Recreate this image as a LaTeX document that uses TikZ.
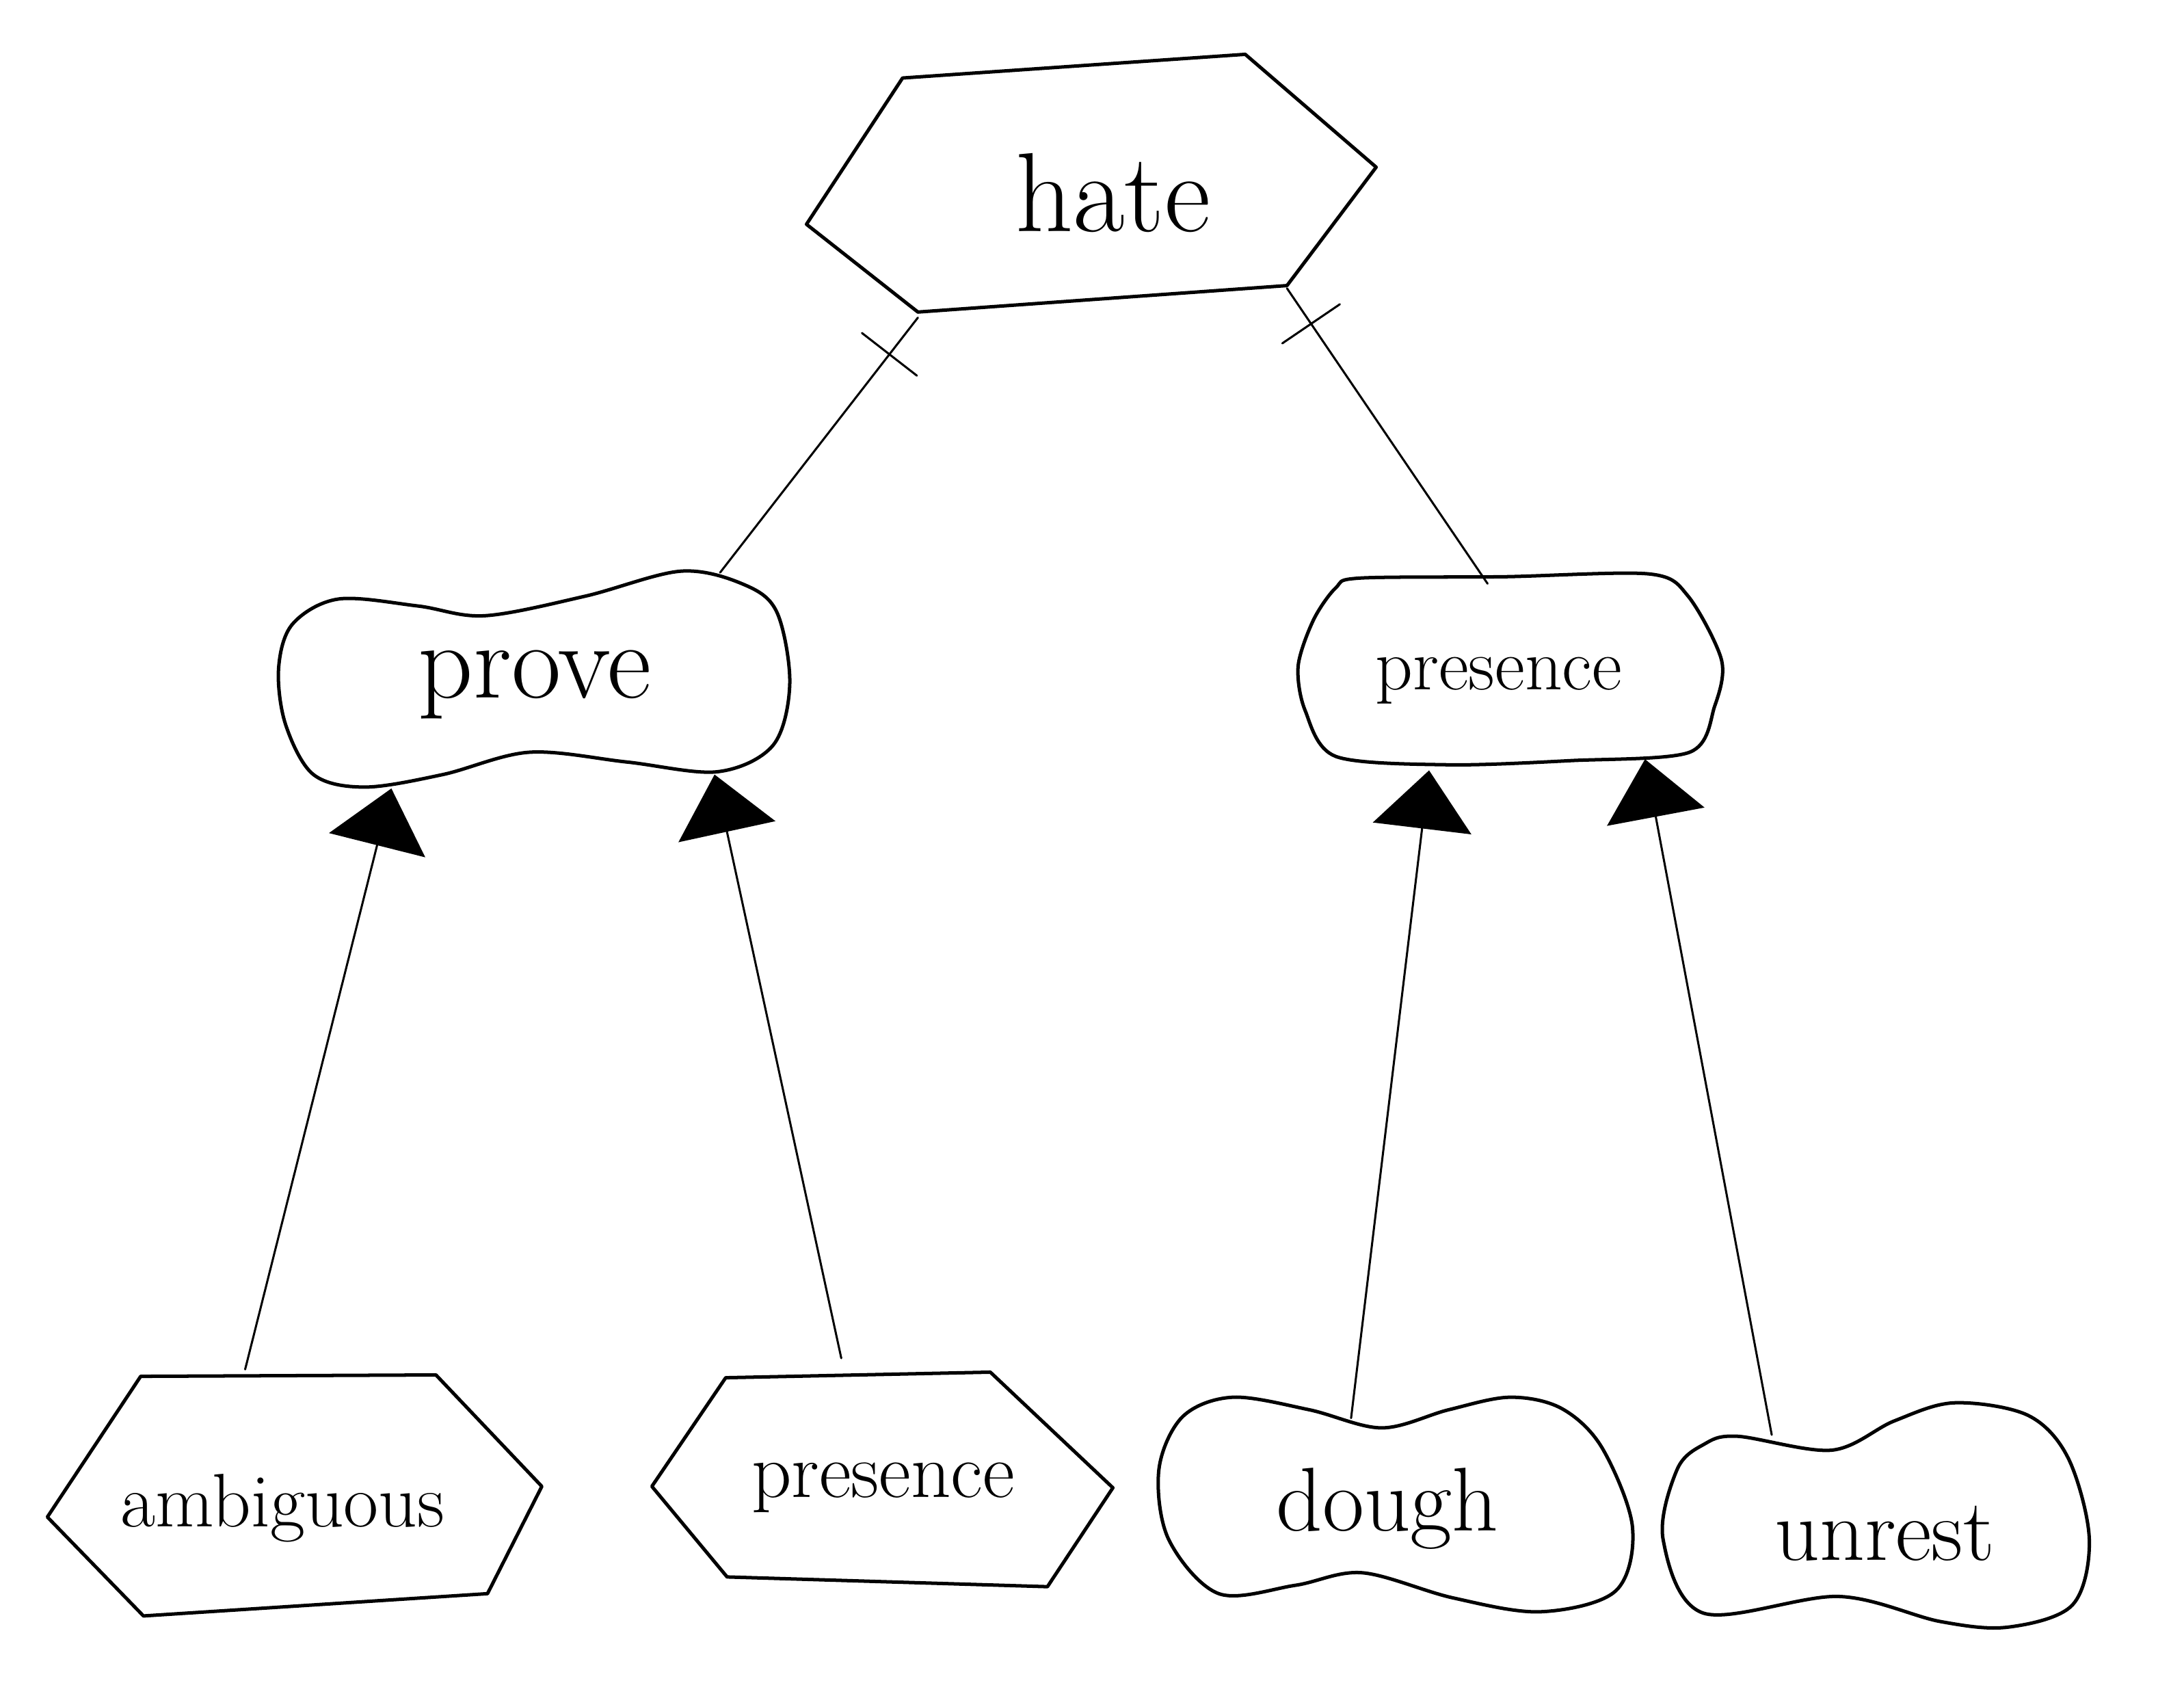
\documentclass[tikz,border=0pt]{standalone}
\usepackage{fontspec}
\usetikzlibrary{arrows.meta,decorations.markings}
\begin{document}
\begin{tikzpicture}[x=0.02cm,y=-0.02cm,
  outline/.style={draw=black, line width=1.4pt, line join=round, line cap=round},
  conn/.style={draw=black, line width=0.85pt, line cap=round},
  arr/.style={conn, -{Triangle[length=0.84cm,width=1.42cm]}},
  tickat/.style={postaction={decorate}, decoration={markings,
      mark=at position #1 with {\draw[line width=0.85pt] (0,-0.5cm) -- (0,0.5cm);}}},
  lbl/.style={anchor=base, inner sep=0pt},
  fs/.style={font=\fontsize{#1}{#1}\selectfont}]
\fill[white] (0,0) rectangle (1568,1217);
\useasboundingbox (0,0) rectangle (1568,1217);

% ---- shapes ----
% hate (hexagon)
\draw[outline] (579,161) -- (648,56) -- (894,39) -- (988,120) -- (924,205) -- (659,224) -- cycle;
% prove (wavy blob)
\draw[outline] plot[smooth cycle, tension=0.55] coordinates {
  (243,430) (300,435) (348,442) (420,428) (489,410) (535,420) (558,440)
  (567,491) (555,535) (515,554) (450,547) (380,540) (318,556) (262,565)
  (225,556) (205,520) (200,480) (210,448)};
% presence, middle (rounded box)
\draw[outline] plot[smooth cycle, tension=0.5] coordinates {
  (976,415) (1080,414) (1184,412) (1212,428) (1236,474) (1231,507)
  (1213,540) (1128,546) (1040,549) (959,543) (937,510) (932,478)
  (943,445) (959,422)};
% ambiguous (hexagon)
\draw[outline] (34,1089) -- (101,988) -- (313,987) -- (389,1067) -- (350,1144) -- (103,1160) -- cycle;
% presence, bottom (hexagon)
\draw[outline] (468,1067) -- (521,989) -- (711,985) -- (799,1068) -- (752,1139) -- (522,1132) -- cycle;
% dough (wavy blob)
\draw[outline] plot[smooth cycle, tension=0.55] coordinates {
  (885,1003) (940,1012) (992,1025) (1040,1012) (1084,1003) (1121,1011)
  (1150,1039) (1172,1096) (1160,1142) (1106,1157) (1043,1147) (978,1129)
  (930,1138) (875,1144) (839,1105) (832,1055) (849,1017)};
% unrest (wavy blob)
\draw[outline] plot[smooth cycle, tension=0.55] coordinates {
  (1247,1031) (1315,1041) (1360,1020) (1403,1007) (1456,1016)
  (1485,1047) (1500,1105) (1488,1152) (1442,1168) (1393,1164)
  (1320,1146) (1223,1158) (1194,1105) (1204,1055) (1223,1037)};

% ---- labels ----
\node[lbl, fs=46] (hate) at (799,166) {hate};
\node[lbl, fs=44] (prove) at (384,501) {prove};
\node[lbl, fs=30] (presM) at (1076,495) {presence};
\node[lbl, fs=31] (ambig) at (203,1096) {ambiguous};
\node[lbl, fs=32] (presB) at (634,1075) {presence};
\node[lbl, fs=37] (dough) at (996,1099) {dough};
\node[lbl, fs=36] (unrest) at (1353,1120) {unrest};

% ---- attachment points ----
\coordinate (hate-bl) at (659,228);
\coordinate (hate-br) at (924,207);
\coordinate (prove-t) at (517,411);
\coordinate (presM-t) at (1068,419);
\coordinate (prove-b1) at (281,566);
\coordinate (prove-b2) at (513,556);
\coordinate (presM-b1) at (1026,553);
\coordinate (presM-b2) at (1181,545);
\coordinate (ambig-t) at (176,983);
\coordinate (presB-t) at (604,975);
\coordinate (dough-t) at (970,1018);
\coordinate (unrest-t) at (1272,1030);

% ---- connectors ----
\draw[conn, tickat=0.144] (hate-bl) -- (prove-t);
\draw[conn, tickat=0.12] (hate-br) -- (presM-t);
\draw[arr] (ambig-t) -- (prove-b1);
\draw[arr] (presB-t) -- (prove-b2);
\draw[arr] (dough-t) -- (presM-b1);
\draw[arr] (unrest-t) -- (presM-b2);
\end{tikzpicture}
\end{document}
